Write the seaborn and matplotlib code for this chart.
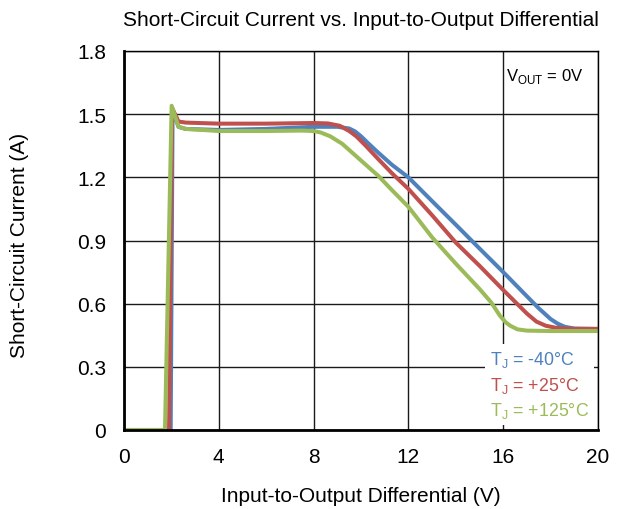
import numpy as np
import pandas as pd
import matplotlib
matplotlib.use("Agg")
import matplotlib.pyplot as plt
import seaborn as sns

# ---- data ----
v_blue = [0, 1.97, 2.05, 2.3, 2.6, 4, 6, 8, 9, 9.5, 9.75, 10.0, 10.3, 10.7, 11.3, 12, 13, 14, 15, 16, 17, 17.5, 18, 18.3, 18.6, 19, 20]
i_blue = [0, 0, 1.52, 1.44, 1.43, 1.425, 1.43, 1.44, 1.44, 1.432, 1.418, 1.395, 1.362, 1.32, 1.26, 1.20, 1.087, 0.975, 0.862, 0.75, 0.635, 0.578, 0.527, 0.505, 0.49, 0.482, 0.48]

v_red = [0, 1.9, 2.03, 2.3, 2.6, 4, 6, 8, 8.6, 9.1, 9.5, 9.8, 10.2, 10.7, 11.3, 12, 13, 14, 15, 16, 17, 17.4, 17.8, 18.2, 18.6, 19, 20]
i_red = [0, 0, 1.53, 1.465, 1.46, 1.455, 1.455, 1.458, 1.456, 1.445, 1.42, 1.395, 1.35, 1.29, 1.22, 1.145, 1.02, 0.89, 0.78, 0.665, 0.553, 0.515, 0.495, 0.486, 0.482, 0.48, 0.48]

v_green = [0, 1.73, 2.01, 2.3, 2.6, 4, 6, 7.5, 8, 8.3, 8.7, 9.2, 9.7, 10.2, 10.73, 11.3, 12, 13, 14, 15, 15.5, 15.86, 16.1, 16.3, 16.6, 17, 18, 20]
i_green = [0, 0, 1.54, 1.44, 1.43, 1.42, 1.42, 1.422, 1.42, 1.413, 1.395, 1.36, 1.31, 1.26, 1.207, 1.14, 1.06, 0.915, 0.79, 0.67, 0.605, 0.543, 0.512, 0.495, 0.478, 0.472, 0.47, 0.47]

series_labels = [r"T$_\mathregular{J}$ = -40°C", r"T$_\mathregular{J}$ = +25°C", r"T$_\mathregular{J}$ = +125°C"]
colors = ["#4F81BD", "#C0504D", "#9BBB59"]
x_ticks = [0, 4, 8, 12, 16, 20]
y_ticks = [0, 0.3, 0.6, 0.9, 1.2, 1.5, 1.8]
y_tick_labels = ["0", "0.3", "0.6", "0.9", "1.2", "1.5", "1.8"]

df = pd.concat([
    pd.DataFrame({"V": v_blue, "I": i_blue, "T": series_labels[0]}),
    pd.DataFrame({"V": v_red, "I": i_red, "T": series_labels[1]}),
    pd.DataFrame({"V": v_green, "I": i_green, "T": series_labels[2]}),
], ignore_index=True)

sns.set_style("white")
plt.rcParams["font.family"] = ["Liberation Sans", "DejaVu Sans"]
plt.rcParams["mathtext.fontset"] = "custom"
plt.rcParams["mathtext.rm"] = "Liberation Sans"
plt.rcParams["text.color"] = "black"
plt.rcParams["axes.labelcolor"] = "black"

fig = plt.figure(figsize=(6.2, 5.1), dpi=100)
ax = fig.add_axes([124/620, 1 - 431/510, (598-124)/620, (431-52)/510])

sns.lineplot(data=df, x="V", y="I", hue="T", palette=colors, sort=False,
             linewidth=2.9, ax=ax, estimator=None, legend=True)

ax.set_xlim(0, 20)
ax.set_ylim(0, 1.8)
ax.set_xticks(x_ticks)
ax.set_yticks(y_ticks)
ax.set_yticklabels(y_tick_labels)
ax.grid(True, color="#1a1a1a", linewidth=1.0)
ax.set_axisbelow(True)
ax.tick_params(axis="both", length=0, labelsize=15, colors="black")
ax.tick_params(axis="x", pad=12)
ax.tick_params(axis="y", pad=13)
for s in ax.spines.values():
    s.set_color("black")
    s.set_linewidth(1.0)
ax.spines["left"].set_linewidth(2.0)
ax.spines["bottom"].set_linewidth(2.0)

ax.set_xlabel("Input-to-Output Differential (V)", fontsize=15, color="black")
ax.set_ylabel("Short-Circuit Current (A)", fontsize=15, color="black")
ax.xaxis.set_label_coords(0.5, -0.148)
ax.yaxis.set_label_coords(-0.2, 0.49)
ax.set_title("Short-Circuit Current vs. Input-to-Output Differential", fontsize=15, pad=19, color="black")

leg = ax.legend(loc="lower right", bbox_to_anchor=(1.0, 0.003), handlelength=0, handletextpad=0,
                labelcolor="linecolor", fontsize=12.8, frameon=True, framealpha=1,
                borderaxespad=0.2, labelspacing=0.3, borderpad=0.3)
leg.get_frame().set_edgecolor("none")
leg.get_frame().set_facecolor("white")
leg.get_frame().set_boxstyle("square", pad=0)
for h in leg.legend_handles:
    h.set_visible(False)

ax.text(0.805, 0.935, r"V$_\mathregular{OUT}$ = 0V", transform=ax.transAxes, fontsize=12,
        ha="left", va="center", color="black")

fig.savefig("out.png", dpi=100)
